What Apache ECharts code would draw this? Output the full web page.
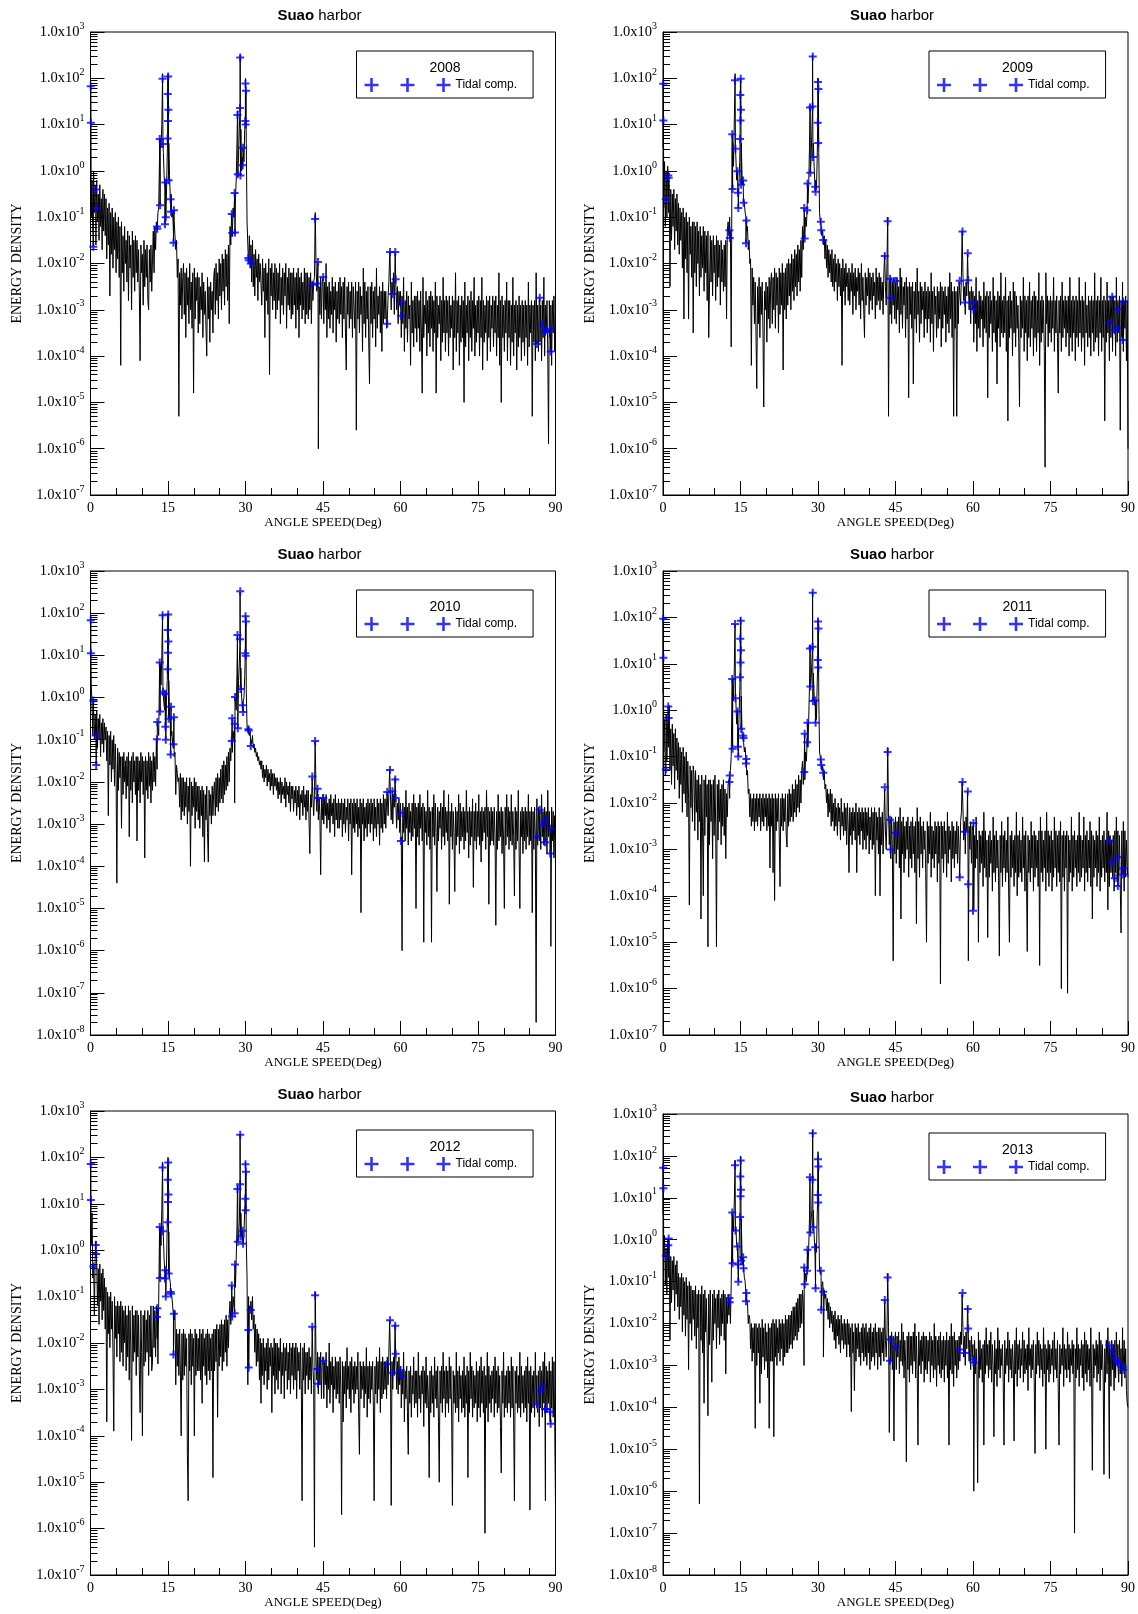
<!DOCTYPE html>
<html>
<head>
<meta charset="utf-8">
<title>Suao harbor</title>
<script src="https://cdn.jsdelivr.net/npm/echarts@6.0.0/dist/echarts.min.js"></script>
<style>
html, body { margin: 0; padding: 0; background: #fff; }
#main { width: 1138px; height: 1614px; }
</style>
</head>
<body>
<div id="main"></div>
<script type="text/javascript">
// 年份 / 纵轴下限(10的幂) / 上限
var years = ['2008', '2009', '2010', '2011', '2012', '2013'];
var yMinExp = [-7, -7, -8, -7, -7, -8];
var yMaxExp = 3;

// 能量谱, 每 0.15 度一个值 (每行 3 度), 数值为 log10(ENERGY DENSITY)
var dStep = 0.15;
var ed2008 = [
 0.1,-1.0,-0.2,-1.3,0.0,-0.9,-0.3,-1.6,-0.2,-1.1,-0.5,-1.5,-0.3,-1.2,-0.6,-1.7,-0.4,-1.3,-0.5,-1.4,
 -0.6,-1.9,-0.8,-1.6,-0.7,-2.7,-0.9,-1.8,-0.8,-2.1,-1.0,-1.7,-0.9,-2.2,-1.1,-1.9,-1.0,-2.3,-1.2,-4.2,
 -1.1,-2.2,-1.4,-2.6,-1.2,-2.0,-1.5,-2.4,-1.3,-2.8,-1.4,-2.1,-1.6,-3.0,-1.3,-2.3,-1.5,-2.6,-1.4,-2.2,
 -1.5,-2.4,-1.7,-2.6,-4.1,-1.6,-2.2,-1.8,-2.9,-1.5,-2.5,-1.7,-2.3,-1.6,-2.8,-3.0,-1.7,-2.4,-1.6,-2.6,
 -1.9,-1.3,-2.2,-1.2,-1.7,-1.1,-1.2,-0.9,-0.8,0.2,0.7,0.5,1.0,2.1,0.4,-0.1,-0.4,-0.3,-0.5,0.3,
 2.1,0.6,-0.1,-0.6,-0.5,-1.0,-0.9,-1.3,-1.1,-1.4,-1.7,-1.5,-2.3,-1.9,-5.3,-2.2,-2.9,-2.1,-3.2,-2.3,
 -2.0,-3.1,-2.2,-3.6,-2.1,-2.9,-2.3,-3.3,-2.0,-3.0,-2.4,-3.4,-2.2,-4.8,-2.1,-3.2,-2.3,-2.8,-2.2,-3.5,
 -2.3,-3.3,-2.5,-3.0,-2.2,-3.6,-2.4,-3.1,-2.6,-3.4,-4.0,-2.3,-3.2,-2.5,-3.7,-2.4,-3.0,-2.6,-3.5,-2.3,
 -2.1,-3.1,-2.0,-2.8,-2.2,-3.2,-1.9,-2.7,-2.0,-3.0,-1.8,-2.6,-1.9,-2.9,-1.7,-2.5,-1.8,-2.8,-1.6,-3.3,
 -1.2,-1.6,-1.0,-1.4,-0.8,-1.0,-0.5,-0.6,-0.2,0.6,1.3,0.3,0.9,2.5,0.9,0.0,0.3,0.5,0.2,0.9,
 2.0,0.6,-1.1,-1.6,-1.9,-1.4,-2.1,-1.6,-2.4,-1.5,-2.5,-1.8,-2.7,-1.7,-2.3,-1.9,-2.8,-1.8,-2.4,-2.0,
 -2.0,-2.9,-1.9,-2.6,-2.1,-3.6,-2.0,-2.8,-2.2,-3.1,-1.9,-4.4,-2.1,-2.7,-2.0,-3.0,-2.2,-2.8,-2.0,-3.2,
 -2.1,-3.0,-2.2,-2.8,-2.0,-3.3,-2.3,-2.9,-2.1,-3.1,-2.2,-2.7,-2.0,-3.4,-2.3,-2.9,-2.1,-3.0,-2.2,-3.2,
 -2.2,-3.1,-2.1,-2.9,-2.3,-3.4,-2.2,-3.0,-2.1,-3.6,-2.3,-2.9,-2.2,-3.2,-2.4,-3.0,-2.1,-3.3,-2.2,-3.1,
 -2.2,-3.2,-2.3,-3.0,-2.2,-3.3,-2.4,-2.8,-2.4,-2.3,-0.9,-2.0,-2.6,-2.2,-6.0,-2.5,-3.1,-2.3,-3.2,-2.4,
 -2.3,-3.3,-2.4,-3.0,-2.0,-3.6,-2.5,-3.2,-2.4,-3.4,-2.6,-3.1,-2.3,-3.5,-2.5,-3.0,-2.4,-3.7,-2.6,-3.2,
 -2.4,-3.3,-2.3,-3.1,-2.5,-3.6,-2.4,-3.2,-2.3,-3.5,-4.3,-2.5,-3.1,-2.4,-3.4,-2.6,-3.2,-2.4,-3.6,-2.5,
 -2.5,-3.4,-2.4,-5.6,-2.6,-3.2,-2.4,-3.5,-2.5,-3.1,-2.7,-3.9,-2.1,-3.3,-2.4,-3.6,-2.6,-3.2,-2.5,-3.7,
 -4.6,-2.5,-3.3,-2.4,-3.6,-2.6,-3.2,-2.5,-3.8,-2.1,-3.4,-2.7,-3.1,-2.5,-3.5,-2.6,-3.9,-2.4,-3.3,-2.6,
 -3.2,-2.6,-3.4,-3.3,-2.7,-2.4,-1.8,-2.3,-3.0,-2.4,-2.6,-2.2,-3.1,-1.8,-2.3,-3.0,-2.5,-3.3,-2.6,-2.9,
 -2.6,-3.6,-2.7,-3.3,-2.3,-3.9,-2.8,-3.4,-2.6,-3.7,-2.7,-3.2,-2.9,-4.2,-2.4,-3.5,-2.8,-3.8,-2.7,-3.4,
 -2.7,-3.7,-2.6,-3.4,-2.8,-3.9,-2.6,-3.5,-4.8,-2.3,-3.6,-2.9,-3.3,-2.6,-4.0,-2.8,-3.5,-2.7,-3.8,-2.6,
 -3.4,-2.7,-3.9,-2.8,-3.5,-2.4,-4.8,-2.7,-3.6,-2.9,-3.3,-2.7,-4.1,-2.8,-3.7,-2.3,-3.5,-2.8,-3.9,-2.7,
 -3.5,-2.8,-4.0,-2.7,-3.6,-2.9,-3.4,-2.7,-4.3,-2.8,-3.6,-2.2,-3.9,-2.8,-3.5,-2.7,-4.2,-2.9,-3.7,-2.7,
 -3.6,-2.8,-5.0,-2.4,-3.8,-2.9,-3.5,-2.7,-4.1,-2.8,-3.6,-2.6,-3.9,-2.8,-3.4,-2.3,-4.0,-2.9,-3.7,-2.8,
 -3.5,-2.7,-4.0,-2.8,-3.6,-2.3,-4.3,-2.8,-3.7,-2.9,-3.5,-2.7,-4.1,-2.8,-3.6,-2.7,-3.9,-2.9,-3.4,-2.7,
 -3.8,-2.8,-3.5,-2.7,-4.0,-2.9,-3.6,-2.2,-4.2,-2.8,-5.0,-2.7,-3.6,-2.9,-3.9,-2.8,-3.5,-2.4,-4.1,-2.8,
 -3.6,-2.8,-4.2,-2.9,-3.7,-2.3,-4.0,-2.9,-3.5,-2.8,-4.3,-2.9,-3.8,-2.7,-3.6,-2.9,-4.1,-2.8,-3.7,-2.9,
 -4.0,-2.8,-3.6,-2.9,-4.2,-2.4,-3.8,-2.9,-3.5,-2.8,-5.3,-2.9,-3.7,-2.8,-4.1,-2.2,-3.6,-2.9,-3.9,-2.8,
 -3.7,-2.9,-4.1,-2.8,-3.6,-2.3,-4.0,-2.9,-3.5,-2.8,-3.9,-5.9,-2.8,-3.6,-2.9,-4.2,-2.8,-3.5,-2.7,-3.9,
 -3.4
];
var ed2009 = [
 0.5,-0.8,0.2,-1.2,0.0,-1.0,0.1,-0.9,-0.3,-2.5,-0.4,-1.5,-0.5,-1.2,-0.4,-1.7,-0.6,-1.3,-0.5,-1.6,
 -0.7,-1.8,-0.8,-1.5,-0.9,-2.1,-0.8,-3.2,-1.0,-1.9,-0.9,-2.2,-1.1,-3.2,-1.0,-1.8,-1.2,-2.3,-1.1,-3.5,
 -1.1,-2.2,-1.2,-2.5,-1.1,-2.0,-1.3,-2.7,-1.2,-2.3,-1.4,-2.1,-1.2,-2.6,-1.3,-2.2,-1.4,-2.8,-1.3,-3.6,
 -3.6,-1.4,-2.4,-1.5,-2.7,-1.4,-2.2,-1.6,-2.8,-1.4,-2.5,-1.5,-2.3,-1.6,-2.9,-1.5,-2.4,-1.7,-2.6,-1.6,
 -2.5,-1.5,-3.2,-1.3,-1.1,-1.4,-1.0,-1.3,-3.8,0.3,0.6,0.1,1.1,2.1,0.3,-0.2,0.0,-0.4,-0.3,0.2,
 2.0,0.6,-0.1,-0.3,-0.6,-0.7,-0.9,-1.0,-1.3,-1.2,-1.7,-1.5,-2.0,-1.9,-4.2,-2.1,-2.9,-2.3,-3.3,-2.4,
 -2.4,-4.7,-2.5,-3.3,-2.3,-3.6,-2.5,-3.1,-2.4,-3.5,-5.1,-2.6,-3.0,-2.4,-3.7,-2.5,-3.2,-2.3,-3.4,-2.4,
 -2.2,-3.3,-2.3,-3.0,-2.1,-3.4,-2.2,-2.9,-2.3,-3.5,-2.1,-3.1,-2.2,-2.9,-2.0,-4.3,-2.2,-3.0,-2.1,-3.2,
 -2.0,-2.9,-1.9,-2.7,-2.0,-3.0,-1.8,-2.6,-1.9,-2.8,-1.7,-2.5,-1.8,-2.7,-1.6,-2.4,-1.7,-2.6,-1.5,-2.3,
 -1.2,-1.7,-1.1,-1.5,-1.0,-1.2,-0.8,-0.7,-0.3,0.5,1.3,0.2,0.8,2.5,0.6,0.1,-0.3,-0.2,-0.4,0.3,
 2.0,0.4,-0.9,-1.1,-1.2,-1.4,-1.3,-1.6,-1.4,-1.9,-1.5,-2.1,-1.6,-2.3,-1.7,-2.2,-1.8,-2.4,-1.7,-2.5,
 -1.9,-2.6,-1.8,-2.4,-2.0,-2.8,-1.9,-2.5,-2.0,-2.7,-2.1,-4.2,-1.9,-2.6,-2.1,-2.9,-2.0,-2.5,-2.2,-2.8,
 -2.1,-2.9,-2.2,-2.6,-2.0,-3.1,-2.2,-2.7,-2.1,-3.0,-2.3,-2.6,-2.1,-2.9,-2.2,-3.2,-2.0,-2.8,-2.3,-3.0,
 -3.6,-2.2,-2.9,-2.3,-2.7,-2.1,-3.1,-2.2,-2.8,-2.3,-3.0,-2.2,-2.7,-2.4,-3.2,-2.1,-2.9,-2.3,-2.8,-2.2,
 -3.0,-2.3,-2.8,-2.4,-3.1,-2.2,-1.8,-2.5,-2.9,-2.0,-1.0,-5.3,-2.4,-3.1,-2.3,-3.3,-2.4,-2.9,-2.3,-3.2,
 -2.4,-3.3,-2.3,-3.0,-2.5,-3.5,-2.1,-3.1,-2.3,-3.4,-2.5,-2.9,-2.4,-3.6,-2.3,-3.2,-2.5,-4.9,-2.4,-3.1,
 -2.5,-3.4,-2.4,-4.6,-2.6,-3.2,-2.4,-3.5,-2.1,-3.1,-2.6,-3.7,-2.4,-3.3,-2.5,-3.0,-2.6,-3.6,-2.4,-3.2,
 -2.6,-3.5,-2.5,-3.2,-2.6,-3.7,-2.2,-3.3,-2.6,-3.9,-2.5,-3.1,-2.7,-3.6,-2.5,-3.4,-2.6,-3.2,-2.4,-3.8,
 -2.5,-3.4,-2.6,-3.1,-2.5,-3.7,-2.7,-3.3,-2.5,-3.5,-2.2,-3.2,-2.4,-3.6,-2.6,-5.3,-2.5,-3.4,-2.6,-5.3,
 -2.5,-3.3,-2.4,-2.4,-2.9,-2.3,-1.3,-2.2,-2.8,-2.5,-3.1,-2.4,-2.7,-1.8,-2.4,-3.0,-2.6,-3.3,-2.5,-3.0,
 -2.6,-3.7,-2.7,-3.3,-2.3,-3.9,-2.8,-3.4,-2.6,-3.6,-2.7,-3.2,-2.8,-3.8,-2.4,-3.4,-2.7,-3.5,-2.6,-4.9,
 -2.7,-3.6,-2.6,-3.3,-2.8,-3.9,-2.3,-3.5,-2.7,-3.7,-2.8,-4.6,-2.6,-3.4,-2.7,-3.8,-2.2,-3.5,-2.8,-3.6,
 -2.7,-3.5,-2.3,-3.9,-2.8,-5.4,-2.7,-3.6,-2.6,-3.4,-2.8,-4.0,-2.4,-3.5,-2.6,-3.8,-2.7,-3.4,-2.9,-3.7,
 -5.1,-2.7,-3.6,-2.8,-3.4,-2.3,-3.9,-2.7,-3.5,-2.8,-4.1,-2.7,-3.6,-2.4,-3.8,-2.8,-3.4,-2.7,-4.0,-2.6,
 -3.6,-2.7,-3.9,-2.8,-3.5,-2.2,-4.2,-2.8,-3.7,-2.7,-3.5,-2.8,-3.9,-6.4,-2.2,-3.3,-2.7,-3.8,-2.8,-3.5,
 -2.7,-3.7,-2.8,-3.4,-2.3,-3.9,-2.8,-3.5,-2.7,-3.6,-4.8,-2.8,-3.5,-2.7,-3.9,-2.4,-3.6,-2.8,-3.4,-2.7,
 -3.8,-2.8,-3.5,-2.7,-4.0,-2.3,-3.6,-2.8,-3.9,-2.7,-3.5,-2.8,-4.1,-2.7,-3.6,-2.8,-3.8,-2.3,-3.5,-2.8,
 -3.9,-2.7,-3.6,-2.8,-4.2,-2.4,-3.5,-2.9,-3.8,-2.7,-3.6,-2.8,-4.0,-2.7,-3.5,-2.8,-3.9,-2.2,-3.7,-2.8,
 -3.6,-2.7,-4.0,-2.8,-3.5,-2.3,-3.9,-2.8,-3.6,-2.7,-5.4,-2.8,-3.7,-2.4,-3.5,-2.8,-4.1,-2.7,-3.6,-2.8,
 -3.9,-2.7,-3.5,-2.8,-4.0,-2.3,-3.7,-2.8,-3.5,-2.7,-5.6,-2.8,-3.6,-2.4,-3.9,-2.8,-3.4,-2.7,-4.1,-2.8,
 -6.0
];
var ed2010 = [
 1.0,0.3,-0.2,-0.9,-0.3,-1.0,-0.4,-0.8,-0.3,-1.2,-0.5,-1.0,-0.4,-1.4,-0.6,-1.1,-0.5,-1.3,-0.6,-1.0,
 -0.7,-1.5,-0.8,-2.8,-0.9,-1.6,-0.8,-2.0,-1.0,-1.7,-0.9,-2.1,-1.1,-1.8,-4.4,-1.2,-2.2,-1.3,-1.9,-1.4,
 -3.1,-1.4,-2.3,-1.3,-2.0,-1.5,-2.4,-1.4,-2.1,-1.3,-3.3,-1.5,-2.2,-1.4,-2.5,-1.3,-2.0,-1.5,-2.3,-1.4,
 -3.4,-1.4,-2.2,-1.5,-2.5,-1.3,-2.0,-1.4,-2.3,-1.5,-3.8,-1.4,-2.2,-1.5,-2.4,-1.3,-2.1,-1.4,-2.5,-1.5,
 -2.2,-1.3,-2.0,-1.4,-2.1,-1.0,-1.7,-0.6,-0.9,0.5,0.8,0.3,1.0,2.0,0.1,-0.2,-0.3,0.1,-0.1,0.4,
 2.0,0.4,-0.5,-0.6,-0.9,-0.8,-1.1,-1.2,-1.4,-1.3,-2.3,-1.6,-1.8,-2.0,-1.9,-2.6,-1.8,-2.9,-1.9,-2.7,
 -1.9,-2.8,-2.0,-2.6,-1.9,-3.0,-2.1,-2.7,-1.9,-4.0,-2.0,-2.8,-2.1,-2.6,-1.9,-3.1,-2.0,-2.7,-2.1,-2.9,
 -2.1,-3.1,-2.2,-2.8,-2.1,-3.3,-2.2,-3.9,-2.3,-2.9,-2.1,-3.2,-3.9,-2.2,-2.8,-2.3,-3.0,-2.1,-2.8,-2.2,
 -2.0,-2.8,-1.9,-2.6,-1.8,-2.7,-1.9,-2.5,-1.7,-2.4,-1.6,-2.5,-1.5,-2.3,-1.6,-2.2,-1.4,-2.1,-1.3,-2.0,
 -1.2,-1.5,-1.0,-1.3,-0.8,-1.0,-2.5,-0.1,-0.3,0.6,1.5,0.4,0.8,2.5,0.7,0.0,-0.2,-0.1,0.0,0.5,
 1.95,0.2,-0.7,-0.8,-0.7,-0.9,-0.8,-1.0,-1.1,-0.9,-1.2,-1.1,-1.3,-1.2,-1.4,-1.3,-1.5,-1.4,-1.6,-1.5,
 -1.7,-1.5,-1.9,-1.6,-2.0,-1.7,-1.9,-1.6,-2.1,-1.7,-2.0,-1.8,-2.2,-1.7,-2.1,-1.8,-2.3,-1.8,-2.1,-1.9,
 -2.2,-1.9,-2.4,-2.0,-2.3,-1.9,-2.5,-2.0,-2.3,-2.1,-2.4,-1.9,-2.6,-2.0,-2.3,-2.1,-2.5,-2.0,-2.7,-2.1,
 -2.4,-2.1,-2.7,-2.2,-2.5,-2.1,-2.8,-2.2,-2.6,-2.1,-2.9,-2.3,-2.5,-2.2,-2.8,-2.1,-2.6,-2.3,-2.9,-2.2,
 -2.7,-2.2,-2.9,-3.7,-2.3,-2.6,-1.9,-2.4,-2.8,-2.3,-1.0,-2.2,-2.7,-2.3,-2.9,-2.4,-2.8,-4.2,-2.4,-2.9,
 -2.3,-3.0,-2.4,-2.8,-2.3,-3.1,-2.5,-2.9,-2.4,-3.2,-2.3,-2.8,-2.5,-3.0,-2.4,-3.3,-2.3,-2.9,-2.5,-3.1,
 -2.4,-3.1,-2.5,-2.9,-2.4,-3.3,-2.5,-3.0,-2.4,-3.2,-2.6,-2.9,-2.4,-3.4,-2.5,-3.0,-2.4,-4.2,-2.5,-3.1,
 -2.4,-3.2,-2.5,-3.0,-2.4,-3.3,-2.6,-3.1,-2.4,-5.1,-2.5,-3.0,-2.4,-3.4,-2.6,-3.1,-2.5,-3.3,-2.4,-3.0,
 -2.5,-3.2,-2.4,-3.0,-2.5,-3.4,-2.4,-3.1,-2.6,-3.3,-2.4,-3.0,-2.5,-3.5,-2.4,-3.1,-2.5,-3.2,-2.3,-3.0,
 -2.4,-3.1,-2.5,-2.2,-2.8,-2.3,-1.7,-2.3,-2.9,-2.4,-3.0,-2.3,-2.6,-1.9,-2.4,-3.1,-2.5,-2.9,-2.4,-3.2,
 -2.5,-3.3,-6.0,-2.5,-3.2,-2.6,-3.4,-2.2,-3.1,-2.6,-3.5,-2.5,-3.2,-2.7,-3.4,-2.5,-3.3,-2.3,-3.1,-2.5,
 -5.0,-2.6,-3.3,-2.5,-3.5,-2.3,-3.1,-2.6,-3.4,-2.5,-5.8,-2.6,-3.2,-2.7,-3.5,-2.2,-3.3,-2.6,-3.6,-2.7,
 -5.8,-2.6,-3.3,-2.3,-3.5,-2.5,-3.2,-4.6,-2.6,-3.4,-2.7,-3.1,-2.5,-3.6,-2.6,-3.3,-2.2,-3.5,-2.6,-3.2,
 -2.7,-3.4,-2.3,-4.9,-2.7,-3.3,-2.5,-3.6,-2.7,-3.2,-4.6,-2.6,-3.5,-2.7,-3.3,-2.3,-3.7,-2.5,-3.4,-2.7,
 -3.3,-2.6,-3.6,-2.7,-3.4,-2.2,-3.2,-2.7,-3.8,-2.6,-3.5,-2.7,-3.3,-2.4,-4.5,-2.7,-3.4,-2.5,-3.6,-2.7,
 -3.3,-2.3,-3.5,-2.7,-3.9,-2.6,-3.4,-2.7,-3.2,-2.6,-3.6,-2.2,-3.3,-2.6,-4.9,-2.7,-3.5,-2.6,-3.4,-2.7,
 -3.5,-2.6,-3.3,-5.4,-2.7,-3.6,-2.3,-3.4,-2.7,-3.3,-2.6,-3.7,-2.7,-3.4,-5.0,-2.6,-3.5,-2.3,-3.3,-2.6,
 -3.6,-2.7,-3.4,-2.3,-3.5,-2.7,-3.3,-4.7,-2.6,-3.6,-2.7,-3.4,-2.2,-3.5,-5.0,-2.7,-3.3,-2.6,-3.7,-2.7,
 -3.4,-2.6,-3.6,-2.7,-3.3,-2.3,-3.5,-2.7,-3.4,-2.6,-5.1,-2.7,-3.6,-2.6,-3.3,-7.7,-2.4,-3.5,-2.6,-3.4,
 -2.7,-3.6,-2.3,-3.3,-2.7,-3.5,-2.6,-3.4,-2.7,-3.7,-2.2,-3.3,-2.7,-3.6,-5.9,-2.6,-3.4,-2.7,-3.8,-2.8,
 -4.0
];
var ed2011 = [
 0.35,-0.9,-0.2,-1.4,-0.1,-1.1,-0.3,-0.8,0.1,-1.3,-0.4,-1.6,-0.3,-1.2,-0.5,-1.7,-0.4,-1.3,-0.6,-1.5,
 -0.7,-1.9,-0.8,-1.6,-0.9,-2.2,-0.8,-1.8,-1.0,-2.0,-0.9,-2.3,-1.1,-1.9,-4.2,-1.2,-2.1,-1.3,-2.4,-1.2,
 -1.4,-2.6,-1.3,-2.2,-1.5,-2.8,-1.4,-2.4,-1.6,-4.5,-1.4,-2.5,-4.0,-1.5,-2.7,-1.4,-2.3,-1.6,-5.1,-1.5,
 -2.9,-1.5,-2.4,-1.6,-3.2,-1.5,-2.7,-1.4,-2.5,-5.1,-1.6,-2.8,-1.5,-2.4,-1.7,-2.9,-1.6,-2.5,-1.5,-2.7,
 -1.7,-3.2,-1.8,-2.3,-1.6,-1.5,-1.9,-1.3,-1.0,0.3,0.7,0.2,0.9,1.9,0.2,-0.3,0.0,-0.4,-0.2,0.4,
 2.0,0.3,-0.5,-0.6,-0.7,-0.9,-0.8,-1.1,-1.4,-1.3,-1.8,-1.7,-2.3,-1.8,-2.5,-1.9,-2.4,-1.8,-2.6,-1.9,
 -2.4,-1.8,-2.5,-1.9,-2.3,-1.8,-2.6,-1.9,-2.4,-1.8,-2.5,-1.9,-2.3,-1.8,-2.6,-1.9,-2.5,-1.8,-3.4,-1.9,
 -2.5,-1.8,-3.5,-1.9,-4.1,-1.8,-2.6,-1.9,-2.4,-1.8,-2.7,-3.8,-1.9,-2.5,-1.8,-2.6,-1.9,-2.4,-1.8,-2.7,
 -2.95,-1.8,-2.5,-1.7,-2.4,-1.8,-2.3,-1.6,-2.4,-1.7,-2.2,-1.5,-2.3,-1.6,-2.1,-1.4,-2.2,-1.5,-2.0,-1.3,
 -1.1,-1.6,-1.3,-1.5,-0.9,-1.1,-0.6,-0.8,-0.2,0.5,1.4,0.6,1.0,2.55,0.8,0.3,0.1,0.2,-0.2,0.6,
 1.95,0.3,-0.9,-1.0,-1.1,-1.3,-1.2,-1.5,-1.3,-1.7,-1.6,-2.0,-1.7,-2.3,-1.8,-2.2,-1.7,-2.5,-1.8,-2.4,
 -2.0,-2.6,-1.9,-2.5,-2.1,-2.7,-2.0,-2.4,-2.1,-2.8,-1.9,-2.5,-2.2,-2.7,-2.0,-2.6,-2.1,-2.9,-2.0,-2.5,
 -3.5,-2.1,-2.7,-2.2,-2.9,-2.1,-2.6,-2.2,-2.8,-2.0,-3.5,-2.2,-2.7,-2.1,-2.9,-2.2,-2.6,-2.1,-3.0,-2.2,
 -2.8,-2.1,-3.0,-2.2,-2.7,-2.1,-3.1,-2.3,-2.8,-2.1,-3.0,-2.2,-2.9,-2.1,-4.0,-2.2,-2.8,-2.3,-3.1,-2.1,
 -4.0,-2.3,-2.9,-2.2,-3.1,-2.4,-1.7,-2.6,-3.0,-2.3,-0.8,-2.2,-2.9,-2.4,-3.2,-2.3,-3.0,-5.4,-2.4,-3.1,
 -2.3,-3.3,-2.4,-3.0,-2.3,-3.4,-2.1,-4.5,-2.4,-3.1,-2.3,-3.5,-2.5,-3.2,-2.4,-3.0,-2.3,-3.6,-2.5,-3.2,
 -2.4,-3.4,-2.3,-3.1,-2.5,-3.5,-2.4,-4.6,-2.1,-3.2,-2.4,-3.6,-2.3,-3.1,-2.5,-3.4,-2.4,-3.0,-2.6,-3.5,
 -5.0,-2.4,-3.3,-2.5,-3.1,-2.2,-3.6,-2.5,-3.2,-2.6,-3.4,-2.4,-3.1,-2.5,-3.7,-2.4,-3.3,-2.5,-5.9,-2.4,
 -3.2,-2.5,-3.5,-2.4,-3.1,-2.6,-3.6,-2.2,-3.3,-2.5,-3.0,-2.6,-3.7,-2.4,-3.2,-2.5,-3.4,-2.6,-3.1,-2.4,
 -3.3,-2.5,-3.0,-3.6,-2.4,-2.2,-1.55,-2.1,-2.8,-2.4,-3.1,-2.3,-2.6,-1.75,-5.4,-2.5,-3.0,-2.4,-3.3,-2.5,
 -2.6,-4.3,-2.7,-3.4,-2.3,-3.2,-2.8,-5.0,-2.6,-3.5,-2.7,-3.3,-2.6,-3.8,-2.2,-3.4,-2.6,-3.6,-2.8,-4.9,
 -2.7,-3.6,-2.6,-3.3,-2.8,-3.9,-2.3,-3.5,-2.7,-3.7,-2.6,-3.4,-2.8,-3.6,-5.3,-2.7,-3.5,-2.4,-3.8,-2.7,
 -3.4,-2.6,-3.7,-2.8,-3.5,-2.3,-3.9,-5.0,-2.7,-3.6,-2.6,-3.4,-2.8,-3.8,-2.7,-3.5,-2.2,-4.0,-2.7,-3.6,
 -2.6,-3.5,-2.8,-3.7,-2.3,-3.4,-2.7,-3.9,-2.6,-3.6,-5.2,-2.7,-3.5,-2.8,-3.7,-2.4,-3.4,-2.7,-3.9,-2.6,
 -3.6,-2.7,-3.4,-2.8,-3.8,-2.6,-5.5,-2.3,-3.5,-2.6,-3.7,-2.8,-3.4,-2.6,-3.9,-2.2,-3.5,-2.6,-3.8,-2.7,
 -3.5,-2.6,-3.9,-2.8,-3.6,-2.3,-3.4,-2.6,-3.8,-2.7,-3.5,-2.6,-3.7,-2.4,-6.0,-2.7,-3.6,-2.6,-3.9,-2.7,
 -3.4,-2.6,-6.1,-2.7,-3.7,-2.8,-3.5,-2.3,-3.9,-2.7,-3.6,-2.6,-3.4,-2.8,-3.8,-2.7,-3.5,-2.2,-3.7,-2.7,
 -3.6,-2.8,-3.4,-2.3,-3.9,-2.7,-3.5,-2.6,-3.7,-2.8,-3.4,-2.4,-3.8,-2.6,-4.5,-2.7,-3.6,-2.8,-3.4,-2.6,
 -3.8,-2.7,-3.5,-2.3,-3.9,-2.8,-3.6,-2.7,-3.4,-2.6,-3.7,-2.8,-3.5,-2.2,-4.3,-2.6,-3.8,-2.7,-3.5,-2.8,
 -3.6,-2.7,-3.9,-2.6,-3.5,-2.3,-3.7,-2.6,-3.4,-2.7,-3.8,-4.8,-2.6,-3.5,-2.4,-3.9,-2.6,-3.6,-2.8,-3.4,
 -3.6
];
var ed2012 = [
 0.3,0.1,0.8,-0.6,-0.3,-1.4,-0.2,0.2,-0.3,-1.2,-0.4,-1.6,-0.3,-1.1,-0.5,-1.5,-0.4,-1.3,-0.6,-1.7,
 -0.8,-3.7,-0.9,-1.8,-1.0,-2.1,-0.9,-1.7,-1.1,-2.2,-3.9,-1.0,-1.9,-1.2,-2.3,-1.1,-1.8,-1.2,-2.4,-1.1,
 -2.2,-1.2,-2.5,-1.3,-2.0,-1.2,-2.6,-1.4,-2.3,-1.2,-2.8,-1.3,-2.1,-4.1,-1.2,-2.4,-1.4,-2.2,-1.3,-2.7,
 -1.3,-2.3,-1.4,-2.6,-3.5,-1.3,-2.2,-4.0,-1.4,-2.5,-1.3,-2.4,-1.5,-2.2,-1.3,-2.7,-1.4,-2.3,-1.2,-2.6,
 -2.4,-1.2,-2.1,-1.3,-2.3,-1.2,-1.9,-2.45,-1.1,0.3,0.5,0.1,0.9,1.9,0.3,-0.2,-0.5,-0.6,-0.4,0.5,
 2.0,0.4,-0.6,-0.7,-0.9,-1.0,-1.2,-1.4,-1.5,-1.3,-2.9,-1.7,-2.5,-1.8,-2.7,-1.7,-2.6,-4.0,-1.8,-2.8,
 -1.7,-2.7,-1.8,-2.5,-1.9,-4.4,-5.4,-1.8,-2.6,-1.7,-2.9,-1.8,-2.5,-1.9,-4.0,-1.7,-2.7,-1.8,-2.6,-1.9,
 -2.6,-1.7,-2.8,-1.8,-3.3,-1.7,-2.5,-1.9,-2.7,-1.8,-2.9,-1.7,-2.6,-1.8,-2.8,-1.9,-2.6,-1.8,-4.9,-1.7,
 -2.6,-1.7,-2.4,-1.6,-3.6,-1.7,-2.5,-1.6,-2.3,-1.5,-2.6,-1.6,-2.4,-1.5,-2.2,-1.4,-2.5,-1.5,-2.1,-1.4,
 -1.1,-1.6,-1.2,-1.4,-1.0,-1.2,-0.6,-0.8,-0.2,0.5,1.4,0.3,0.6,2.5,0.8,0.3,0.2,0.1,0.3,0.9,
 1.9,0.2,-0.6,-2.9,-1.0,-1.2,-1.3,-1.1,-1.5,-1.0,-1.7,-1.4,-2.2,-1.6,-2.5,-1.7,-2.4,-1.8,-2.8,-1.9,
 -3.3,-2.0,-2.7,-1.9,-2.9,-2.1,-2.6,-2.0,-3.0,-1.9,-2.8,-2.1,-2.5,-2.0,-3.5,-2.1,-2.7,-1.9,-3.1,-2.0,
 -2.8,-2.0,-3.0,-2.1,-2.6,-1.9,-3.1,-2.2,-2.7,-2.0,-3.2,-2.1,-2.6,-2.0,-3.0,-2.2,-2.8,-2.0,-3.1,-2.1,
 -2.7,-2.0,-3.0,-2.1,-2.8,-2.0,-3.2,-2.1,-2.6,-2.2,-3.0,-2.0,-2.9,-5.4,-2.1,-2.8,-2.0,-3.1,-2.2,-2.7,
 -2.2,-3.0,-2.1,-2.8,-2.3,-3.1,-1.7,-2.5,-2.9,-6.4,-0.9,-2.3,-2.8,-2.2,-3.1,-2.3,-2.9,-2.2,-3.2,-2.4,
 -2.3,-3.2,-2.4,-2.9,-2.2,-3.4,-2.5,-3.0,-2.0,-3.3,-2.4,-2.9,-2.3,-3.5,-2.5,-3.0,-2.3,-3.2,-2.4,-3.1,
 -2.4,-3.3,-2.3,-3.0,-5.7,-2.4,-3.7,-2.5,-3.1,-2.4,-3.4,-2.1,-3.0,-2.5,-3.2,-2.4,-3.5,-2.3,-3.0,-2.5,
 -3.3,-2.4,-3.1,-2.5,-3.0,-2.2,-3.5,-4.4,-2.4,-3.2,-2.5,-3.0,-2.4,-3.4,-2.5,-3.1,-2.1,-3.6,-2.5,-3.2,
 -2.4,-3.3,-2.5,-3.0,-2.4,-3.4,-5.4,-2.5,-3.1,-2.3,-3.3,-2.4,-3.0,-2.1,-3.5,-2.4,-3.2,-2.3,-3.1,-2.4,
 -3.0,-2.4,-3.2,-2.3,-2.9,-2.2,-1.5,-2.3,-5.5,-2.4,-3.0,-2.3,-2.7,-1.6,-2.3,-3.0,-2.4,-3.1,-2.3,-2.9,
 -2.5,-3.4,-2.6,-3.1,-2.2,-3.7,-2.6,-3.2,-2.5,-3.5,-4.4,-2.6,-3.3,-2.5,-3.6,-2.7,-3.1,-2.3,-3.4,-2.6,
 -3.3,-2.6,-3.6,-2.2,-3.2,-2.7,-3.5,-2.6,-3.1,-2.5,-3.8,-2.6,-3.3,-2.3,-3.4,-2.7,-3.2,-4.9,-2.6,-3.5,
 -2.5,-3.3,-2.7,-3.6,-2.3,-3.2,-2.6,-3.4,-2.5,-3.7,-5.0,-2.6,-3.3,-2.5,-3.5,-2.2,-3.2,-2.6,-3.6,-2.5,
 -3.3,-2.6,-3.5,-2.3,-3.2,-2.5,-3.6,-5.5,-2.6,-3.3,-2.7,-3.5,-2.2,-3.4,-2.6,-3.7,-2.5,-3.2,-2.7,-3.5,
 -2.6,-3.4,-2.3,-3.6,-2.7,-3.3,-2.5,-4.9,-2.6,-3.5,-2.2,-3.2,-2.5,-3.6,-2.6,-3.4,-2.7,-3.3,-2.4,-3.7,
 -2.6,-3.4,-2.5,-3.6,-2.3,-3.3,-2.6,-3.5,-2.5,-6.1,-2.7,-3.4,-2.2,-3.7,-2.5,-3.3,-2.7,-3.5,-2.6,-3.2,
 -2.5,-3.6,-2.3,-3.3,-2.6,-3.5,-2.5,-3.4,-2.7,-3.8,-4.8,-2.6,-3.3,-2.2,-3.6,-2.7,-3.4,-2.6,-3.5,-2.5,
 -3.3,-2.6,-3.6,-2.3,-3.4,-2.5,-3.7,-5.4,-2.6,-3.3,-2.5,-3.5,-2.7,-3.4,-2.2,-3.6,-2.5,-3.3,-2.7,-3.5,
 -2.6,-3.4,-2.5,-3.7,-2.3,-3.3,-2.6,-5.6,-2.5,-3.5,-2.7,-3.4,-2.6,-3.6,-2.2,-3.3,-2.7,-3.5,-2.6,-3.8,
 -2.5,-3.4,-2.6,-3.6,-2.4,-3.3,-2.2,-5.4,-2.5,-3.5,-2.6,-3.3,-2.4,-3.7,-2.6,-3.4,-2.3,-3.6,-2.4,-3.8,
 -5.5
];
var ed2013 = [
 0.6,-0.4,0.1,-1.1,-0.2,-1.3,0.0,-0.9,-0.1,-2.4,-0.4,-1.5,-0.5,-1.2,-0.4,-1.7,-0.6,-1.3,-0.5,-1.6,
 -0.8,-1.9,-0.9,-1.6,-0.8,-2.2,-0.9,-1.8,-1.0,-2.3,-0.9,-1.9,-1.1,-3.1,-1.0,-2.0,-1.1,-2.4,-1.2,-1.9,
 -1.2,-2.3,-1.1,-2.6,-1.3,-2.1,-1.2,-6.3,-1.3,-2.4,-1.1,-2.7,-1.3,-3.9,-1.2,-2.2,-1.4,-2.6,-4.2,-1.3,
 -2.5,-1.2,-2.2,-3.4,-1.3,-2.4,-1.2,-2.0,-1.4,-2.6,-1.3,-2.1,-1.2,-2.5,-1.4,-2.3,-1.3,-2.0,-1.2,-2.4,
 -1.3,-3.2,-1.4,-2.0,-1.3,-1.8,-1.4,-2.0,-1.1,0.4,0.6,0.2,0.9,1.9,0.3,-0.1,-0.2,-0.6,-0.3,0.4,
 2.0,0.5,-0.4,-0.6,-0.7,-0.9,-1.0,-1.3,-1.4,-1.5,-2.0,-1.8,-1.9,-2.6,-2.0,-2.9,-2.1,-2.7,-2.0,-4.5,
 -2.0,-3.0,-2.1,-2.7,-2.0,-3.9,-2.1,-3.2,-1.9,-2.8,-2.1,-3.1,-2.0,-2.9,-2.2,-3.3,-2.0,-4.5,-2.1,-2.9,
 -2.0,-2.9,-1.9,-4.7,-2.0,-2.8,-1.9,-3.0,-2.1,-2.7,-1.9,-2.9,-2.0,-2.6,-1.9,-3.0,-2.0,-2.8,-1.8,-2.7,
 -1.9,-2.7,-1.8,-2.6,-1.8,-2.5,-1.7,-2.6,-1.6,-2.4,-1.6,-2.3,-1.5,-2.4,-1.4,-2.2,-1.3,-2.1,-1.3,-2.0,
 -1.2,-1.5,-3.0,-1.1,-0.8,-1.0,-0.5,-0.7,-0.2,0.5,1.5,0.4,0.7,2.6,0.7,0.1,-0.2,-0.1,-0.3,0.6,
 2.1,0.3,-0.7,-0.8,-0.9,-1.1,-1.0,-2.8,-1.2,-1.4,-1.3,-1.7,-1.4,-1.9,-1.5,-2.1,-1.6,-2.0,-1.7,-2.2,
 -1.8,-2.4,-1.7,-2.6,-1.9,-2.3,-1.8,-2.5,-1.9,-2.7,-1.8,-2.4,-2.0,-2.6,-1.9,-2.5,-2.0,-2.8,-1.9,-2.5,
 -2.0,-2.8,-2.1,-4.1,-2.0,-2.7,-2.2,-3.6,-2.0,-2.9,-2.1,-2.6,-2.0,-2.8,-2.2,-3.0,-2.1,-2.7,-2.0,-2.9,
 -2.1,-2.8,-2.0,-3.0,-2.2,-2.7,-2.1,-3.1,-2.0,-2.9,-2.2,-2.8,-2.1,-3.0,-2.0,-2.7,-2.2,-3.1,-2.1,-2.8,
 -2.1,-3.0,-2.2,-2.7,-2.1,-2.9,-1.5,-2.4,-2.8,-2.2,-0.8,-2.1,-4.6,-2.3,-2.9,-2.2,-3.1,-2.3,-4.8,-2.4,
 -2.2,-3.1,-2.3,-2.8,-2.2,-3.2,-2.4,-2.9,-2.0,-3.0,-2.2,-3.3,-2.4,-2.9,-5.3,-2.3,-3.1,-2.2,-3.4,-2.3,
 -3.0,-2.3,-3.2,-2.2,-2.9,-2.0,-3.3,-2.3,-3.1,-4.9,-2.2,-3.0,-2.4,-3.2,-2.3,-2.9,-2.2,-3.4,-2.3,-3.1,
 -2.3,-3.2,-2.4,-2.9,-2.2,-3.4,-2.3,-3.0,-2.4,-3.3,-2.0,-3.1,-2.3,-3.5,-2.4,-3.0,-2.3,-3.2,-2.2,-3.3,
 -2.4,-3.1,-2.3,-3.4,-2.4,-3.0,-2.2,-3.3,-2.4,-4.9,-2.3,-3.1,-2.0,-3.2,-2.3,-3.5,-2.2,-3.0,-2.4,-3.3,
 -2.4,-3.1,-2.3,-2.9,-2.2,-2.5,-1.3,-2.1,-2.8,-2.3,-3.0,-2.2,-2.6,-1.6,-2.3,-2.9,-2.4,-3.1,-2.3,-2.8,
 -2.5,-6.0,-2.4,-3.2,-2.6,-3.0,-5.8,-2.2,-3.3,-2.4,-3.1,-2.6,-3.4,-2.5,-4.9,-2.4,-3.2,-2.1,-3.0,-2.5,
 -3.3,-2.4,-3.1,-2.2,-3.4,-2.5,-3.0,-4.7,-2.4,-3.2,-2.6,-3.5,-2.1,-3.1,-2.4,-3.3,-2.6,-3.0,-2.5,-3.4,
 -4.9,-2.4,-3.2,-2.6,-3.0,-2.2,-3.4,-2.4,-3.1,-2.6,-3.3,-2.5,-3.0,-4.8,-2.4,-3.2,-2.1,-3.5,-2.5,-3.1,
 -2.4,-3.3,-2.6,-3.0,-2.2,-3.4,-2.4,-3.2,-2.6,-3.1,-2.5,-3.6,-2.1,-3.0,-2.6,-3.3,-2.5,-3.1,-2.4,-3.4,
 -5.1,-2.5,-3.2,-2.2,-3.0,-2.4,-3.3,-2.5,-3.1,-2.6,-3.5,-2.1,-3.2,-2.5,-5.0,-2.6,-3.1,-2.4,-3.4,-2.5,
 -3.2,-2.6,-3.0,-2.4,-3.4,-2.2,-3.1,-2.6,-3.3,-2.4,-3.6,-4.9,-2.5,-3.2,-2.6,-3.0,-2.1,-3.5,-2.5,-3.1,
 -2.6,-3.3,-2.2,-3.1,-2.5,-3.4,-2.6,-3.0,-2.4,-3.2,-2.5,-7.0,-2.6,-3.3,-2.1,-3.1,-2.5,-3.5,-2.6,-3.0,
 -2.4,-3.3,-2.5,-3.6,-2.2,-3.2,-2.4,-3.4,-2.5,-3.1,-2.6,-3.5,-2.1,-3.2,-5.5,-2.5,-3.3,-2.6,-3.0,-2.4,
 -3.4,-2.5,-3.2,-2.2,-3.6,-2.4,-3.1,-2.5,-3.3,-5.6,-2.6,-3.4,-2.4,-3.2,-2.1,-3.0,-5.7,-2.6,-3.5,-2.4,
 -3.1,-2.5,-3.6,-2.4,-3.3,-2.2,-3.0,-2.5,-3.4,-2.4,-3.2,-2.6,-3.5,-2.1,-3.1,-2.4,-3.3,-2.6,-3.6,-3.9,
 -4.0
];

// 分潮角速度 (deg/hr)
var tideSpeed = [
 0.041, 0.082, 0.544, 1.016, 1.098,
 12.854, 12.927, 13.399, 13.472, 13.943, 14.025, 14.415, 14.497, 14.570, 14.918, 14.959, 15.000, 15.041, 15.082, 15.123, 15.513, 15.585, 16.057, 16.139,
 27.342, 27.424, 27.895, 27.968, 28.440, 28.513, 28.943, 28.984, 29.025, 29.456, 29.528, 29.959, 30.000, 30.041, 30.082, 30.544, 30.626, 31.016,
 42.927, 43.476, 43.943, 44.025, 45.041,
 57.424, 57.968, 58.440, 58.984, 59.066, 60.000, 60.082,
 86.408, 86.952, 87.424, 87.968, 88.050, 88.984, 89.066
];
// 分潮能量 log10
var tide2008 = [
 1.83, 1.04, -1.64, -0.40, -0.80,
 -1.20, -1.25, 0.69, -0.74, 1.99, 0.58, -1.15, -0.25, -1.00, 0.70, 1.66, 1.08, 2.04, 1.32, -0.20, -0.61, -0.88, -1.55, -0.85,
 -0.93, -1.34, -0.48, -1.33, 1.21, -0.07, 1.36, 2.45, -0.10, 0.12, 0.50, 1.08, 1.89, 1.00, 1.73, -1.88, -1.93, -2.00,
 -2.46, -1.04, -2.43, -1.97, -2.29,
 -3.30, -1.75, -2.66, -1.75, -2.34, -2.86, -3.13,
 -3.74, -2.74, -3.31, -3.48, -3.45, -3.42, -3.90
];
var tide2009 = [
 1.88, 1.09, -0.61, -0.10, -0.15,
 -1.28, -1.45, 0.79, -0.39, 1.96, 0.48, -0.01, -0.47, -0.80, 0.69, 1.64, 1.09, 1.99, 1.32, -0.30, -0.21, -0.69, -1.56, -1.07,
 -0.80, -1.46, -0.85, -0.27, 1.37, -0.04, 1.39, 2.47, 0.30, -0.34, -0.45, 1.04, 1.92, 0.60, 1.77, -1.10, -1.28, -1.49,
 -1.84, -1.09, -2.33, -2.74, -2.38,
 -2.37, -1.31, -2.84, -1.78, -2.36, -2.85, -2.99,
 -3.28, -2.72, -3.44, -3.39, -2.99, -3.65, -2.82
];
var tide2010 = [
 1.83, 1.05, -0.07, -0.90, -1.60,
 -0.99, -0.58, 0.83, -0.33, 1.95, 0.14, 0.09, -0.69, -1.00, 0.67, 1.60, 1.06, 1.97, 1.33, -0.50, -1.35, -0.22, -1.11, -0.47,
 -1.03, -0.49, -0.62, 0.01, 1.48, -0.73, 1.38, 2.52, 0.20, -0.18, -0.34, 1.05, 1.93, 0.99, 1.80, -0.75, -0.78, -1.15,
 -1.87, -1.03, -2.16, -2.38, -2.38,
 -2.24, -1.72, -2.22, -1.94, -2.38, -2.74, -3.40,
 -3.30, -2.66, -3.00, -3.43, -2.89, -3.70, -3.11
];
var tide2011 = [
 1.97, 1.13, -1.28, 0.08, -0.17,
 -1.55, -1.41, 0.67, -0.83, 1.86, 0.26, -0.03, -0.79, -1.00, 0.71, 1.54, 1.03, 1.93, 1.29, -0.40, -0.55, -0.60, -1.15, -1.05,
 -1.33, -0.51, -0.69, -0.27, 1.33, 0.51, 1.37, 2.53, 0.20, 0.21, -0.27, 1.08, 1.91, 0.92, 1.76, -1.06, -1.18, -1.35,
 -1.66, -0.90, -2.36, -3.00, -2.64,
 -3.60, -1.55, -2.62, -1.75, -3.75, -4.32, -2.43,
 -2.81, -3.29, -3.62, -3.17, -3.79, -3.41, -3.54
];
var tide2012 = [
 1.86, 1.08, -0.35, 0.11, -0.08,
 -1.44, -1.25, 0.50, -0.60, 1.78, 0.41, -0.61, -0.43, -1.00, 0.60, 1.52, 1.04, 1.89, 1.20, -0.50, -0.90, -0.94, -2.25, -1.37,
 -0.76, -1.43, -1.36, -0.31, 1.32, 0.18, 1.42, 2.49, 0.30, 0.42, 0.14, 1.11, 1.85, 0.86, 1.69, -1.72, -2.53, -1.29,
 -1.65, -0.97, -2.56, -2.88, -2.38,
 -2.45, -1.51, -2.64, -1.63, -2.23, -2.58, -2.71,
 -3.32, -3.04, -2.93, -3.43, -3.42, -3.48, -3.74
];
var tide2013 = [
 1.72, 1.23, -0.38, -0.13, 0.03,
 -1.39, -1.49, 0.65, -0.56, 1.78, 0.22, -0.16, -0.59, -1.00, 0.54, 1.51, 1.04, 1.89, 1.19, -0.50, -0.42, -0.68, -1.47, -1.27,
 -0.66, -1.06, -0.74, -0.24, 1.49, 0.17, 1.43, 2.54, 0.30, -0.18, -1.16, 1.07, 1.92, 0.89, 1.75, -0.74, -1.67, -1.24,
 -1.44, -0.90, -2.89, -2.38, -2.56,
 -2.62, -1.27, -2.70, -1.65, -2.12, -2.85, -2.93,
 -2.52, -2.67, -2.82, -2.90, -2.95, -3.03, -3.10
];

var edList = [ed2008, ed2009, ed2010, ed2011, ed2012, ed2013];
var tideList = [tide2008, tide2009, tide2010, tide2011, tide2012, tide2013];

// 各子图绘图区 [left, top, width, height]
var gridBox = [
  [90.5, 32, 465, 463],
  [663, 32, 465, 463],
  [90.5, 571, 465, 464],
  [663, 571, 465, 464],
  [90.5, 1111, 465, 464],
  [663, 1114, 465, 461]
];

var serif = 'Liberation Serif';
var sans = 'Liberation Sans';
var plusMark = 'path://M3,0H5V3H8V5H5V8H3V5H0V3H3Z';
var plusTriple = 'path://M0,5.7H5.7V0H8.3V5.7H14V8.3H8.3V14H5.7V8.3H0Z M36,5.7H41.7V0H44.3V5.7H50V8.3H44.3V14H41.7V8.3H36Z M72,5.7H77.7V0H80.3V5.7H86V8.3H80.3V14H77.7V8.3H72Z';

// 谱线 + 分潮点合并
function lineData(ed, td) {
  var pts = ed.map(function (v, i) { return [i * dStep, v]; });
  tideSpeed.forEach(function (s, i) { pts.push([s, td[i]]); });
  pts.sort(function (a, b) { return a[0] - b[0]; });
  return pts;
}

// 对数副刻度 2..9
function minorTicks(lo, hi) {
  var arr = [];
  for (var d = lo; d < hi; d++) {
    for (var k = 2; k <= 9; k++) arr.push(d + Math.log10(k));
  }
  return arr;
}

var option = {
  animation: false,
  backgroundColor: '#fff',
  title: [], legend: [], grid: [], xAxis: [], yAxis: [], series: []
};

years.forEach(function (yr, p) {
  var g = gridBox[p];
  var boxLeft = g[0] + 266, boxTop = g[1] + 19;

  option.grid.push({
    left: g[0], top: g[1], width: g[2], height: g[3],
    show: true, borderColor: '#000', borderWidth: 1,
    containLabel: false, outerBoundsMode: 'none'
  });

  option.title.push({
    text: '{b|Suao} harbor',
    left: g[0] + 229, top: g[1] - 24, textAlign: 'center', padding: 0,
    textStyle: {
      fontFamily: sans, fontSize: 15, fontWeight: 'normal', color: '#000',
      rich: { b: { fontFamily: sans, fontSize: 15, fontWeight: 'bold', color: '#000' } }
    }
  });
  option.title.push({
    text: yr,
    left: boxLeft + 88.5, top: boxTop + 10, textAlign: 'center', padding: 0,
    textStyle: { fontFamily: sans, fontSize: 14, fontWeight: 'normal', color: '#000' }
  });

  option.legend.push({
    left: boxLeft, top: boxTop,
    orient: 'horizontal',
    padding: [27, 16, 6, 8],
    borderColor: '#000', borderWidth: 1, backgroundColor: '#fff',
    itemWidth: 86, itemHeight: 14,
    selectedMode: false,
    data: [{ name: 'tide' + yr, icon: plusTriple }],
    formatter: function () { return 'Tidal comp.'; },
    textStyle: { fontFamily: sans, fontSize: 12, color: '#000' }
  });

  option.xAxis.push({
    type: 'value', gridIndex: p, min: 0, max: 90, interval: 15,
    name: 'ANGLE SPEED(Deg)', nameLocation: 'middle', nameGap: 21,
    nameTextStyle: { fontFamily: serif, fontSize: 13, color: '#000' },
    axisLine: { show: true, onZero: false, lineStyle: { color: '#000', width: 1 } },
    axisTick: { show: true, inside: true, length: 14, lineStyle: { color: '#000' } },
    minorTick: { show: true, splitNumber: 3, length: 7, lineStyle: { color: '#000' } },
    axisLabel: { margin: 6, fontFamily: serif, fontSize: 14, color: '#000' },
    splitLine: { show: false }
  });

  var lo = yMinExp[p];
  option.yAxis.push({
    type: 'value', gridIndex: p, position: 'left', min: lo, max: yMaxExp, interval: 1,
    name: 'ENERGY DENSITY', nameLocation: 'middle', nameGap: 66, nameRotate: 90,
    nameTextStyle: { fontFamily: serif, fontSize: 14, color: '#000' },
    axisLine: { show: true, onZero: false, lineStyle: { color: '#000', width: 1 } },
    axisTick: { show: true, inside: true, length: 14, lineStyle: { color: '#000' } },
    axisLabel: {
      margin: 6,
      formatter: function (v) { return '{m|1.0x10}{e|' + v + '}'; },
      rich: {
        m: { fontFamily: serif, fontSize: 14.5, color: '#000', lineHeight: 22 },
        e: { fontFamily: serif, fontSize: 10, color: '#000', verticalAlign: 'top', lineHeight: 11 }
      }
    },
    splitLine: { show: false }
  });
  option.yAxis.push({
    type: 'value', gridIndex: p, position: 'left', min: lo, max: yMaxExp,
    axisLine: { show: false, onZero: false },
    axisLabel: { show: false },
    splitLine: { show: false },
    axisTick: { show: true, inside: true, length: 7, lineStyle: { color: '#000' },
      customValues: minorTicks(lo, yMaxExp) }
  });

  option.series.push({
    name: 'spec' + yr, type: 'line', xAxisIndex: p, yAxisIndex: 2 * p,
    data: lineData(edList[p], tideList[p]),
    showSymbol: false, symbol: 'none', clip: true, z: 2,
    lineStyle: { color: '#000', width: 1 }
  });
  option.series.push({
    name: 'tide' + yr, type: 'scatter', xAxisIndex: p, yAxisIndex: 2 * p,
    data: tideSpeed.map(function (s, i) { return [s, tideList[p][i]]; }),
    symbol: plusMark, symbolSize: 8, z: 3,
    itemStyle: { color: '#0000ff' }
  });
});

var myChart = echarts.init(document.getElementById('main'), null, { renderer: 'canvas' });
myChart.setOption(option);
</script>
</body>
</html>
